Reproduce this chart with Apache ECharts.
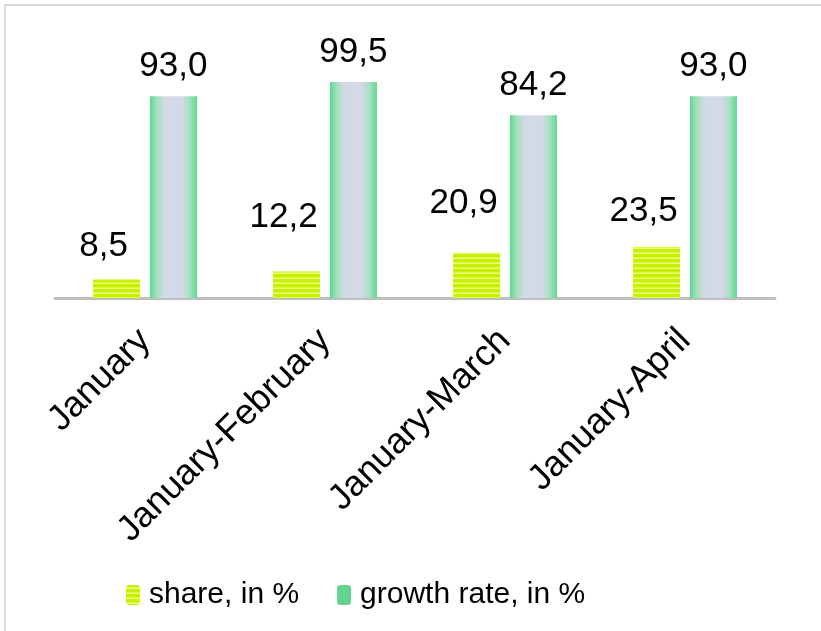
<!DOCTYPE html>
<html>
<head>
<meta charset="utf-8">
<script src="https://cdn.jsdelivr.net/npm/echarts@6/dist/echarts.min.js"></script>
<style>
  html, body { margin: 0; padding: 0; background: #fff; }
  #chart { width: 821px; height: 631px; }
</style>
</head>
<body>
<div id="chart"></div>
<script>
const periods = ['January', 'January-February', 'January-March', 'January-April'];
const shareValues = [8.5, 12.2, 20.9, 23.5];
const growthValues = [93.0, 99.5, 84.2, 93.0];

// excel put the share labels at uneven heights, mimic that
const shareLabelLift = [16, 37, 32, 18];

function stripePattern() {
    const c = document.createElement('canvas');
    c.width = 8;
    c.height = 5;
    const ctx = c.getContext('2d');
    ctx.fillStyle = '#c6f000';
    ctx.fillRect(0, 0, 8, 5);
    ctx.fillStyle = '#eaff7a';
    ctx.fillRect(0, 3, 8, 1);
    ctx.fillStyle = '#d8fb3a';
    ctx.fillRect(0, 2, 8, 1);
    return c;
}

const growthFill = new echarts.graphic.LinearGradient(0, 0, 1, 0, [
    { offset: 0, color: '#5cd88f' },
    { offset: 0.15, color: '#a4e1be' },
    { offset: 0.32, color: '#d3d9e6' },
    { offset: 0.68, color: '#d3d9e6' },
    { offset: 0.85, color: '#a4e1be' },
    { offset: 1, color: '#5cd88f' }
]);

const fmt = v => v.toFixed(1).replace('.', ',');
const font = 'Liberation Sans, Arial, sans-serif';

const chart = echarts.init(document.getElementById('chart'));
chart.setOption({
    animation: false,
    backgroundColor: '#fff',
    graphic: [{
        type: 'rect',
        shape: { x: 5, y: 5, width: 900, height: 700 },
        style: { fill: 'none', stroke: '#d9d9d9', lineWidth: 2 },
        silent: true
    }],
    legend: {
        left: 121,
        top: 575,
        itemWidth: 14,
        itemHeight: 20,
        itemGap: 38,
        textStyle: { fontFamily: font, fontSize: 30, color: '#000', padding: [0, 0, 0, 4] },
        data: [
            { name: 'share, in %' },
            { name: 'growth rate, in %', itemStyle: { color: '#62d391' } }
        ]
    },
    grid: { left: 55, right: 46, top: 81, bottom: 333 },
    xAxis: {
        type: 'category',
        data: periods,
        axisLine: { lineStyle: { color: '#bfbfbf', width: 3 } },
        axisTick: { show: false },
        axisLabel: {
            interval: 0,
            rotate: 45,
            margin: 37,
            fontFamily: font,
            fontSize: 36,
            color: '#000'
        }
    },
    yAxis: {
        type: 'value',
        min: 0,
        max: 100,
        show: false,
        splitLine: { show: false }
    },
    series: [
        {
            name: 'share, in %',
            type: 'bar',
            barWidth: 47,
            barGap: '21%',
            itemStyle: { color: { image: stripePattern(), repeat: 'repeat' } },
            data: shareValues.map((v, i) => ({
                value: v,
                label: { distance: shareLabelLift[i] }
            })),
            label: {
                show: true,
                position: 'top',
                fontFamily: font,
                fontSize: 35,
                color: '#000',
                offset: [-13, 0],
                formatter: p => fmt(p.value)
            }
        },
        {
            name: 'growth rate, in %',
            type: 'bar',
            barWidth: 47,
            itemStyle: { color: growthFill },
            data: growthValues,
            label: {
                show: true,
                position: 'top',
                distance: 12,
                fontFamily: font,
                fontSize: 35,
                color: '#000',
                formatter: p => fmt(p.value)
            }
        }
    ]
});
</script>
</body>
</html>
